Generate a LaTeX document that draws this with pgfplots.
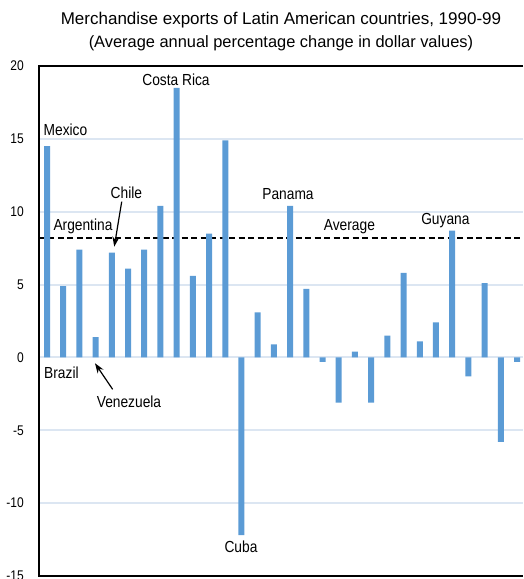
\documentclass[border=0pt]{standalone}
\usepackage{fontspec}
\setmainfont{Liberation Sans}[FakeStretch=0.86]
\newfontfamily\titlefont{Liberation Sans}
\usepackage{pgfplots}
\pgfplotsset{compat=1.18}
\usetikzlibrary{arrows.meta}
\definecolor{barblue}{RGB}{91,155,213}
\definecolor{gridblue}{RGB}{220,230,242}
\newcommand{\lab}{\fontsize{16}{16}\selectfont}
\begin{document}
\begin{tikzpicture}
\begin{axis}[
  scale only axis, width=484pt, height=510pt,
  xmin=0.506, xmax=30.37, ymin=-15, ymax=20,
  axis line style={draw=none},
  xtick=\empty,
  ytick={-15,-10,-5,0,5,10,15,20},
  yticklabels={-15,-10,-5,0,5,10,15,20},
  ymajorgrids, grid style={gridblue, line width=2pt},
  major tick length=0pt,
  yticklabel style={font=\fontsize{14}{14}\selectfont, inner sep=0pt, anchor=east, xshift=-15pt},
  clip=false,
]
\coordinate (SW) at (rel axis cs:0,0);
\coordinate (NE) at (rel axis cs:1,1);
\addplot[black, line width=1.4pt, dash pattern=on 6pt off 3.5pt] coordinates {(0.506,8.2) (30.37,8.2)};
\addplot[ybar, bar width=6pt, fill=barblue, draw=none] coordinates {
(1,14.5) (2,4.9) (3,7.4) (4,1.4) (5,7.2) (6,6.1) (7,7.4) (8,10.4) (9,18.5) (10,5.6)
(11,8.5) (12,14.9) (13,-12.2) (14,3.1) (15,0.9) (16,10.4) (17,4.7) (18,-0.3) (19,-3.1) (20,0.4)
(21,-3.1) (22,1.5) (23,5.8) (24,1.1) (25,2.4) (26,8.7) (27,-1.3) (28,5.1) (29,-5.8) (30,-0.3)
};
\draw[line width=2.5pt, line join=miter] (rel axis cs:1,1) -- (rel axis cs:0,1) -- (rel axis cs:0,0) -- (rel axis cs:1,0);
\node[anchor=base, font=\lab] at (axis cs:2.14,15.20) {Mexico};
\node[anchor=base, font=\lab] at (axis cs:8.96,18.63) {Costa Rica};
\node[anchor=base, font=\lab] at (axis cs:5.90,10.94) {Chile};
\node[anchor=base, font=\lab] at (axis cs:3.22,8.74) {Argentina};
\node[anchor=base, font=\lab] at (axis cs:1.89,-1.44) {Brazil};
\node[anchor=base, font=\lab] at (axis cs:6.06,-3.47) {Venezuela};
\node[anchor=base, font=\lab] at (axis cs:12.97,-13.42) {Cuba};
\node[anchor=base, font=\lab] at (axis cs:15.87,10.87) {Panama};
\node[anchor=base, font=\lab] at (axis cs:19.66,8.74) {Average};
\node[anchor=base, font=\lab] at (axis cs:25.58,9.09) {Guyana};
\draw[-{Stealth[length=10pt,width=7pt]}, line width=1.2pt] (axis cs:5.61,10.69) -- (axis cs:5.15,7.6);
\draw[-{Stealth[length=10pt,width=7pt]}, line width=1.2pt] (axis cs:5.05,-2.19) -- (axis cs:3.96,-0.40);
\node[anchor=base, font=\titlefont\fontsize{17}{17}\selectfont] at ([yshift=41pt]rel axis cs:0.5,1) {Merchandise exports of Latin American countries, 1990-99};
\node[anchor=base, font=\titlefont\fontsize{16.4}{16.4}\selectfont] at ([yshift=18pt]rel axis cs:0.5,1) {(Average annual percentage change in dollar values)};
\end{axis}
\pgfresetboundingbox
\path[use as bounding box] ([xshift=-39pt,yshift=-3pt]SW) rectangle ([yshift=66pt]NE);
\end{tikzpicture}
\end{document}
